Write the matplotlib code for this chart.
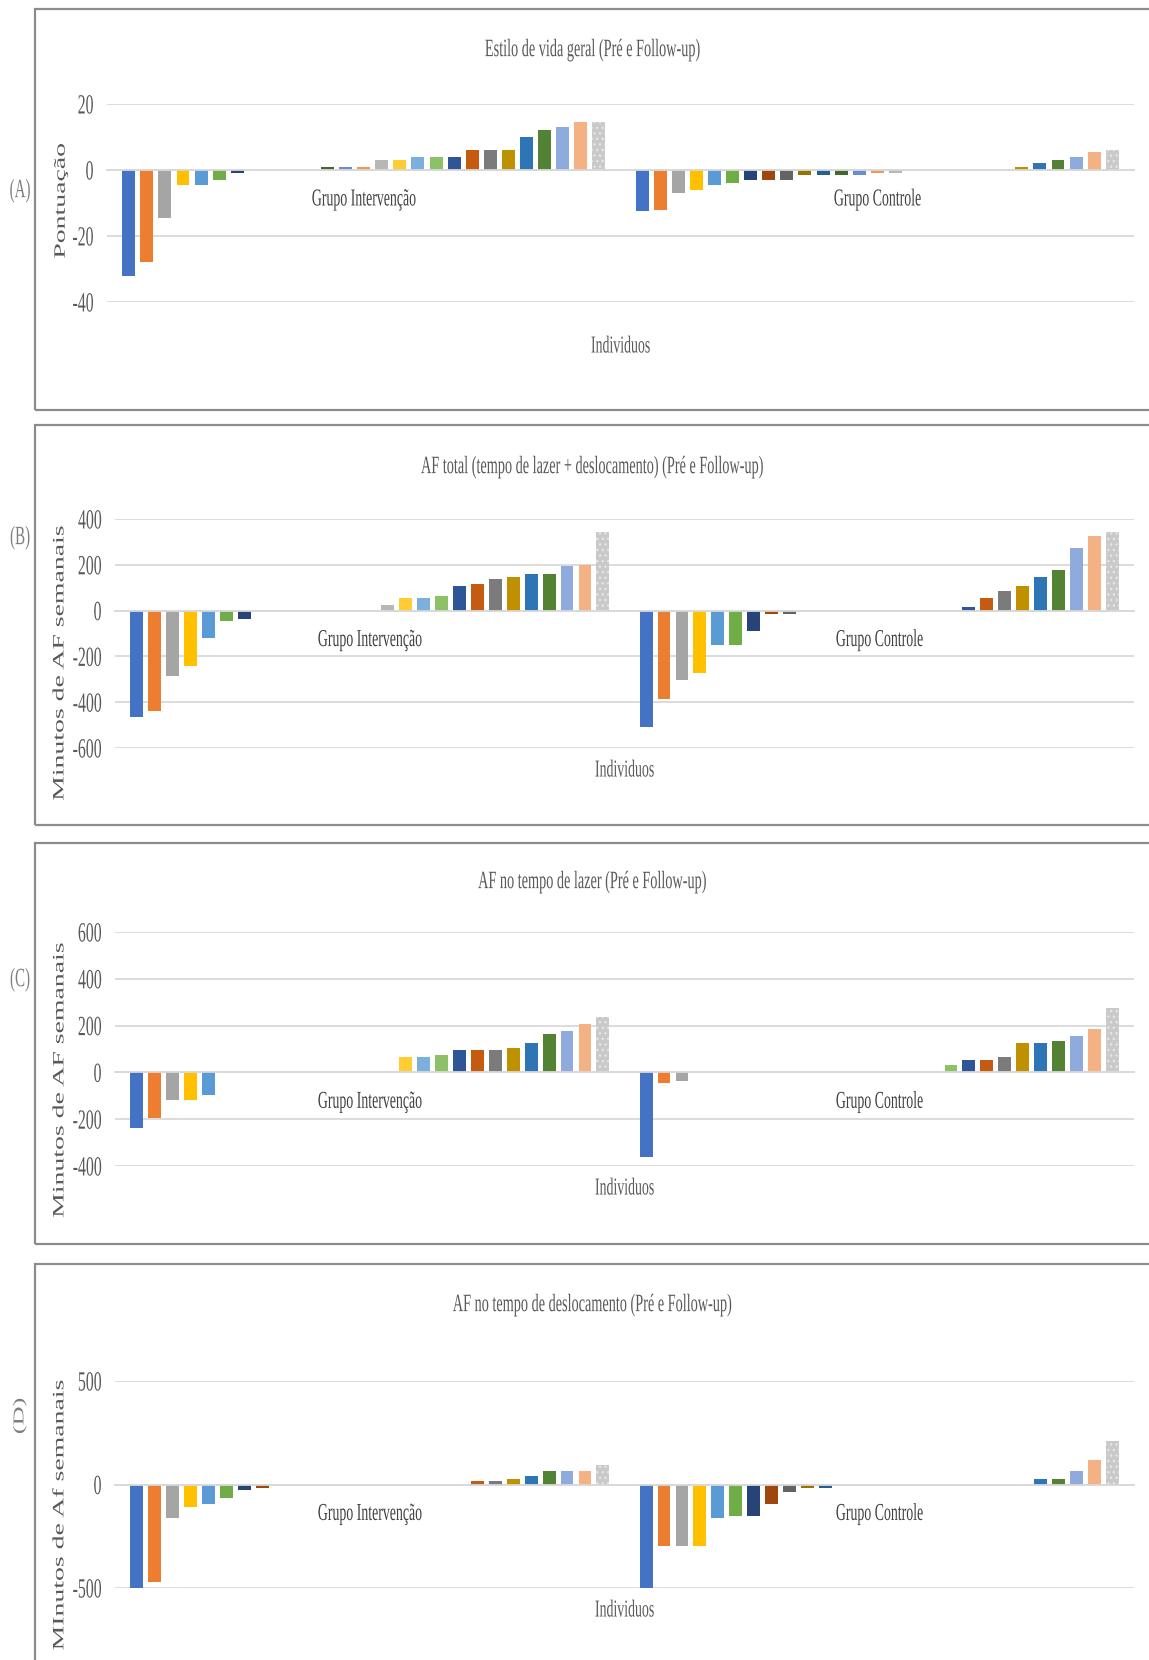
# coding=utf-8

import numpy as np
import matplotlib
matplotlib.use('Agg')
import matplotlib.pyplot as plt
from matplotlib.patches import Rectangle
from matplotlib.patheffects import AbstractPathEffect
from matplotlib.transforms import Affine2D, Bbox

plt.rcParams['font.family'] = ['Liberation Serif', 'DejaVu Serif']

# 27 individuos por grupo, ordenados (0 = sem barra)
groups = ['Grupo Intervenção', 'Grupo Controle']

estilo_int = [-32, -28, -14.5, -4.5, -4.5, -3, -1, 0, 0, 0, 0, 1, 1, 1,
              3, 3, 4, 4, 4, 6, 6, 6, 10, 12, 13, 14.5, 14.5]
estilo_ctrl = [-12.5, -12, -7, -6, -4.5, -4, -3, -3, -3, -1.5, -1.5, -1.5, -1.5, -1,
               -1, 0, 0, 0, 0, 0, 0, 1, 2, 3, 4, 5.5, 6]

total_int = [-465, -439, -284, -243, -119, -47, -36, 0, 0, 0, 0, 0, 0, 0,
             23, 55, 55, 65, 108, 118, 138, 148, 159, 159, 196, 199, 343]
total_ctrl = [-509, -385, -304, -272, -150, -150, -87, -13, -13, 0, 0, 0, 0, 0,
              0, 0, 0, 0, 15, 55, 87, 109, 148, 179, 273, 324, 343]

lazer_int = [-237, -196, -118, -118, -97, 0, 0, 0, 0, 0, 0, 0, 0, 0,
             0, 64, 64, 74, 96, 96, 96, 106, 126, 166, 176, 206, 236]
lazer_ctrl = [-360, -46, -37, 0, 0, 0, 0, 0, 0, 0, 0, 0, 0, 0,
              0, 0, 0, 33, 54, 54, 64, 126, 126, 136, 156, 184, 276]

desloc_int = [-505, -472, -164, -108, -95, -63, -27, -16, 0, 0, 0, 0, 0, 0,
              0, 0, 0, 0, 0, 16, 16, 27, 39, 63, 63, 63, 96]
desloc_ctrl = [-504, -297, -297, -297, -160, -151, -151, -95, -37, -16, -16, 0, 0, 0,
               0, 0, 0, 0, 0, 0, 0, 0, 27, 27, 63, 119, 210]

# cores padrao do Excel, uma por serie
colors = ['#4472C4', '#ED7D31', '#A5A5A5', '#FFC000', '#5B9BD5', '#70AD47',
          '#264478', '#9E480E', '#636363', '#997300', '#255E91', '#43682B',
          '#698ED0', '#F1975A', '#B7B7B7', '#FFCD33', '#7CAFDD', '#8CC168',
          '#2F5597', '#C55A11', '#7B7B7B', '#BF9000', '#2E75B6', '#548235',
          '#8FAADC', '#F4B183', '#C9C9C9']

W, H = 1149, 1660
pitch = 0.0352   # distancia entre barras (categoria = 1)
bar_w = 0.0253
SX = 0.57        # a figura original esta "espremida" na horizontal
grid_c = '#D9D9D9'
text_c = '#595959'


def _anchor_x(x0, x1, anchor):
    if anchor == 'right':
        return x1
    if anchor == 'left':
        return x0
    return (x0 + x1) / 2


class Squeeze(AbstractPathEffect):
    def __init__(self, sx=SX, anchor='center'):
        super().__init__()
        self.sx = sx
        self.anchor = anchor

    def draw_path(self, renderer, gc, tpath, affine, rgbFace=None):
        ext = tpath.get_extents(affine)
        a = _anchor_x(ext.x0, ext.x1, self.anchor)
        sq = Affine2D().translate(-a, 0).scale(self.sx, 1).translate(a, 0)
        renderer.draw_path(gc, tpath, affine + sq, rgbFace)


def squeeze(t, anchor='center'):
    # desenha o texto estreitado e informa a caixa estreitada
    t.set_path_effects([Squeeze(SX, anchor)])
    base = t.get_window_extent

    def extent(renderer=None, dpi=None):
        bb = base(renderer, dpi)
        a = _anchor_x(bb.x0, bb.x1, anchor)
        return Bbox([[a + (bb.x0 - a) * SX, bb.y0], [a + (bb.x1 - a) * SX, bb.y1]])
    t.get_window_extent = extent


fig = plt.figure(figsize=(W / 100, H / 100), dpi=100)


def ftext(x, y, s, size, color=text_c, rot=0):
    t = fig.text(x / W, 1 - y / H, s, fontsize=size, color=color, rotation=rot,
                 ha='center', va='center')
    squeeze(t)


panels = [
    dict(letter='(A)', title='Estilo de vida geral (Pré e Follow-up)', ylabel='Pontuação',
         data=(estilo_int, estilo_ctrl), ticks=[-40, -20, 0, 20],
         box=(9, 410), plot=(107, 1134, 104, 302),
         title_y=50, ind_y=347, ylab_y=201, let_y=191, let_rot=0),
    dict(letter='(B)', title='AF total (tempo de lazer + deslocamento) (Pré e Follow-up)',
         ylabel='Minutos de AF semanais',
         data=(total_int, total_ctrl), ticks=[-600, -400, -200, 0, 200, 400],
         box=(425, 825), plot=(115, 1134, 519, 748),
         title_y=467, ind_y=771, ylab_y=663, let_y=538, let_rot=0),
    dict(letter='(C)', title='AF no tempo de lazer (Pré e Follow-up)',
         ylabel='Minutos de AF semanais',
         data=(lazer_int, lazer_ctrl), ticks=[-400, -200, 0, 200, 400, 600],
         box=(843, 1244), plot=(115, 1134, 932, 1166),
         title_y=882, ind_y=1189, ylab_y=1080, let_y=980, let_rot=0),
    dict(letter='(D)', title='AF no tempo de deslocamento (Pré e Follow-up)',
         ylabel='MInutos de Af semanais',
         data=(desloc_int, desloc_ctrl), ticks=[-500, 0, 500],
         box=(1264, 1720), plot=(115, 1134, 1381, 1588),
         title_y=1305, ind_y=1611, ylab_y=1515, let_y=1416, let_rot=90),
]

for p in panels:
    top, bot = p['box']
    fig.add_artist(Rectangle((35 / W, 1 - bot / H), (1180 - 35) / W, (bot - top) / H,
                             transform=fig.transFigure, fill=False, ec='#8C8C8C', lw=1.6))

    x0, x1, y0, y1 = p['plot']
    ax = fig.add_axes([x0 / W, 1 - y1 / H, (x1 - x0) / W, (y1 - y0) / H])
    ax.patch.set_alpha(0)
    ax.set_axisbelow(True)

    off = (np.arange(len(colors)) - (len(colors) - 1) / 2) * pitch
    for i, vals in enumerate(p['data']):
        bars = ax.bar(i + off, vals, bar_w, color=colors, lw=0)
        bars[-1].set_hatch('...')
        bars[-1].set_edgecolor('#E6E6E6')

    ax.set_xlim(-0.5, 1.5)
    ax.set_ylim(p['ticks'][0], p['ticks'][-1])
    ax.grid(axis='y', color=grid_c, lw=1.3)
    for s in ['top', 'right', 'left']:
        ax.spines[s].set_visible(False)
    ax.spines['bottom'].set_position(('data', 0))
    ax.spines['bottom'].set_color(grid_c)
    ax.spines['bottom'].set_linewidth(1.3)

    ax.set_yticks(p['ticks'], labels=[str(t) for t in p['ticks']])
    ax.set_xticks([0, 1], labels=groups)
    ax.tick_params(axis='y', length=0, pad=9.5, labelsize=20, labelcolor=text_c)
    ax.tick_params(axis='x', length=0, pad=14, labelsize=17.5, labelcolor='#404040')
    for t in ax.get_yticklabels():
        squeeze(t, 'right')
    for t in ax.get_xticklabels():
        squeeze(t)

    ftext(593, p['title_y'], p['title'], 18)
    ftext((x0 + x1) / 2, p['ind_y'], 'Individuos', 17.5)
    ftext(61, p['ylab_y'], p['ylabel'], 20, rot=90)
    ftext(20, p['let_y'], p['letter'], 19, color='#7F7F7F', rot=p['let_rot'])

fig.savefig('out.png', dpi=100)
